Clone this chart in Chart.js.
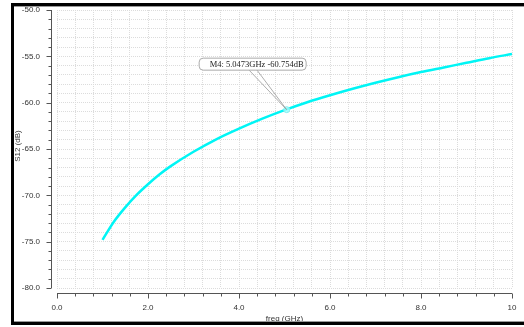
<!DOCTYPE html>
<html>
<head>
<meta charset="utf-8">
<script src="https://cdn.jsdelivr.net/npm/chart.js@4/dist/chart.umd.min.js"></script>
<style>
html,body{margin:0;padding:0;background:#fff;}
#c{display:block;}
</style>
</head>
<body>
<canvas id="c" width="524" height="327"></canvas>
<script>
const freqGHz = [1.0,1.25,1.5,1.75,2.0,2.25,2.5,3.0,3.5,4.0,4.5,5.0,5.5,6.0,6.5,7.0,7.5,8.0,8.5,9.0,9.5,10.0];
const s12dB   = [-74.8,-72.85,-71.3,-69.95,-68.8,-67.75,-66.85,-65.3,-63.95,-62.8,-61.75,-60.8,-59.95,-59.2,-58.5,-57.85,-57.25,-56.7,-56.2,-55.7,-55.2,-54.75];
const markerName = "M4";
const markerFreq = 5.0473;
const markerVal = -60.754;
const xTitle = "freq (GHz)";
const yTitle = "S12 (dB)";

const pts = freqGHz.map((f,i)=>({x:f,y:s12dB[i]}));

const decor = {
  id:'decor',
  afterDraw(chart){
    const ctx = chart.ctx;
    const xs = chart.scales.x, ys = chart.scales.y;
    const area = chart.chartArea;
    ctx.save();
    // y axis line and ticks
    const axX = area.left - 6;
    ctx.strokeStyle = '#555';
    ctx.lineWidth = 1;
    ctx.beginPath();
    ctx.moveTo(axX+0.5, ys.getPixelForValue(-50));
    ctx.lineTo(axX+0.5, ys.getPixelForValue(-80));
    for (let v=-80; v<=-50; v++){
      const y = Math.round(ys.getPixelForValue(v))+0.5;
      const len = (v%5===0)?5:3;
      ctx.moveTo(axX+0.5, y); ctx.lineTo(axX+0.5-len, y);
    }
    ctx.stroke();
    // x axis line and ticks
    const axY = area.bottom + 5;
    ctx.beginPath();
    ctx.moveTo(xs.getPixelForValue(0), axY+0.5);
    ctx.lineTo(xs.getPixelForValue(10), axY+0.5);
    for (let k=0; k<=25; k++){
      const v = k*0.4;
      const x = Math.round(xs.getPixelForValue(v))+0.5;
      const len = (k%5===0)?5:3;
      ctx.moveTo(x, axY+0.5); ctx.lineTo(x, axY+0.5+len);
    }
    ctx.stroke();
    // axis titles
    ctx.fillStyle = '#333';
    ctx.font = '8px "Liberation Sans", Arial, sans-serif';
    ctx.textAlign = 'center';
    ctx.textBaseline = 'middle';
    ctx.fillText(xTitle, (area.left+area.right)/2, 319);
    ctx.save();
    ctx.translate(18, (area.top+area.bottom)/2 - 3);
    ctx.rotate(-Math.PI/2);
    ctx.fillText(yTitle, 0, 0);
    ctx.restore();
    // marker callout
    const mx = xs.getPixelForValue(markerFreq), my = ys.getPixelForValue(markerVal);
    const bx = mx - 88, by = my - 52, bw = 107, bh = 12;
    ctx.strokeStyle = '#999';
    ctx.lineWidth = 0.8;
    ctx.beginPath();
    ctx.moveTo(bx+50, by+bh); ctx.lineTo(mx, my);
    ctx.lineTo(bx+58, by+bh);
    ctx.stroke();
    ctx.beginPath();
    ctx.roundRect(bx+0.5, by+0.5, bw, bh, 4);
    ctx.fillStyle = '#fff';
    ctx.fill();
    ctx.strokeStyle = '#aaa';
    ctx.lineWidth = 1;
    ctx.stroke();
    ctx.fillStyle = '#222';
    ctx.font = '8.5px "Liberation Serif", "Times New Roman", serif';
    ctx.textAlign = 'left';
    ctx.textBaseline = 'middle';
    ctx.fillText(markerName + ': ' + markerFreq.toFixed(4) + 'GHz ' + markerVal.toFixed(3) + 'dB', bx+11, by+bh/2+1);
    // frame
    ctx.fillStyle = '#000';
    ctx.fillRect(11, 3, 3, 322);
    ctx.fillRect(11, 3, 513, 3);
    ctx.fillRect(11, 322, 513, 3);
    ctx.fillStyle = '#999';
    ctx.fillRect(14, 6, 510, 1);
    ctx.fillRect(14, 321, 510, 1);
    ctx.restore();
  }
};

new Chart(document.getElementById('c'), {
  type:'scatter',
  data:{datasets:[
    {data:pts, showLine:true, borderColor:'#00f5f5', borderWidth:2.5, pointRadius:0, cubicInterpolationMode:'monotone', order:2},
    {data:[{x:markerFreq,y:markerVal}], showLine:false, pointRadius:3, pointBackgroundColor:'rgba(160,255,255,0.8)', pointBorderColor:'#8ee', pointBorderWidth:1, order:1}
  ]},
  plugins:[decor],
  options:{
    responsive:false, animation:false, devicePixelRatio:1,
    layout:{padding:{left:0,top:10,right:12,bottom:0}},
    plugins:{legend:{display:false}, tooltip:{enabled:false}},
    scales:{
      x:{type:'linear', min:0, max:10,
        afterFit(s){ s.height = 39; },
        ticks:{stepSize:0.4, autoSkip:false, maxRotation:0, padding:1, color:'#333',
          font:{family:'"Liberation Sans", Arial, sans-serif', size:8},
          callback(v){ const r = v/2; if (Math.abs(r-Math.round(r))<1e-6){ return Math.abs(v-10)<1e-6 ? '10' : Number(v).toFixed(1);} return ''; }},
        grid:{color:'#dcdcdc', lineWidth:1, drawTicks:true, tickLength:14, tickColor:'rgba(0,0,0,0)'},
        border:{display:false, dash:[1,1]}
      },
      y:{type:'linear', min:-80, max:-50,
        afterFit(s){ s.width = 57; },
        ticks:{stepSize:1, autoSkip:false, padding:1, color:'#333',
          font:{family:'"Liberation Sans", Arial, sans-serif', size:8},
          callback(v){ return (Math.round(v)%5===0) ? Number(v).toFixed(1) : ''; }},
        grid:{color:'#dcdcdc', lineWidth:1, drawTicks:true, tickLength:16, tickColor:'rgba(0,0,0,0)'},
        border:{display:false, dash:[1,1]}
      }
    }
  }
});
</script>
</body>
</html>
